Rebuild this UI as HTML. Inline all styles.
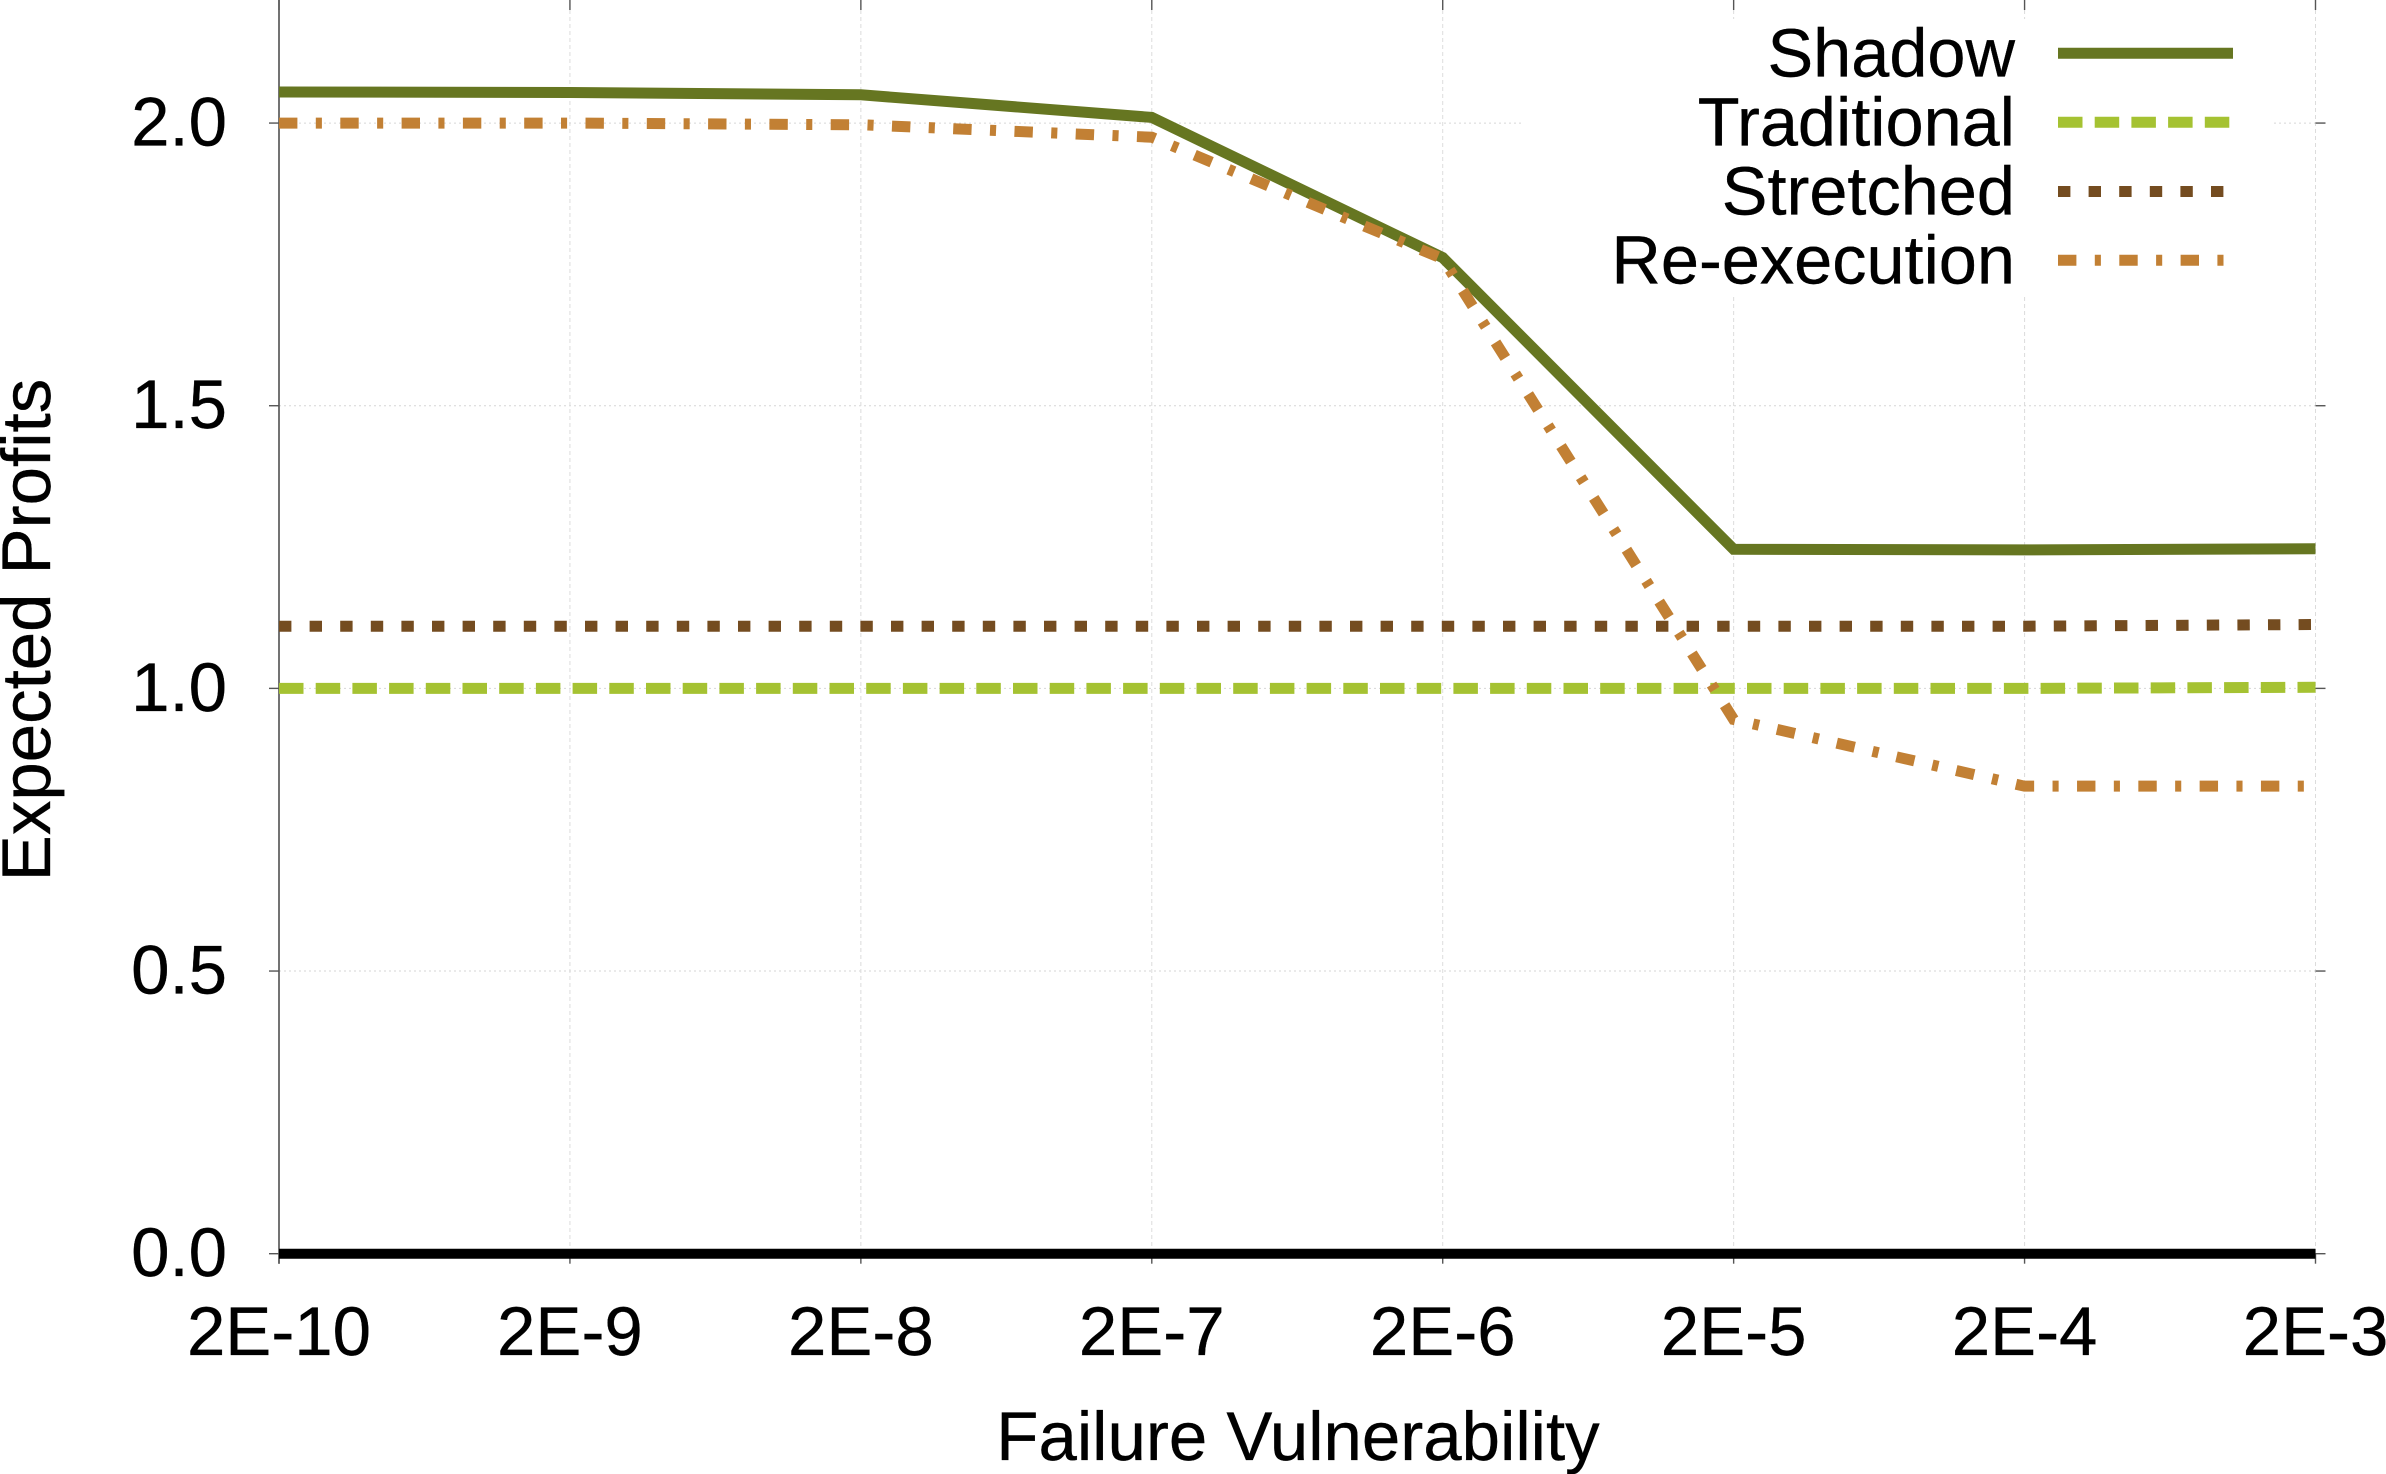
<!DOCTYPE html>
<html lang="en">
<head>
<meta charset="utf-8">
<title>Expected Profits vs Failure Vulnerability</title>
<style>
html,body{margin:0;padding:0;background:#fff;width:2386px;height:1474px;overflow:hidden}
svg{display:block}
text{font-family:"Liberation Sans",sans-serif;fill:#000;stroke:#000;stroke-width:0.35px;text-rendering:geometricPrecision}
</style>
</head>
<body>
<svg id="chart" xmlns="http://www.w3.org/2000/svg" width="2386" height="1474" viewBox="0 0 2386 1474"></svg>
<script>
const xValues = [2e-10, 2e-9, 2e-8, 2e-7, 2e-6, 2e-5, 2e-4, 2e-3];
const xTickLabels = ["2E-10", "2E-9", "2E-8", "2E-7", "2E-6", "2E-5", "2E-4", "2E-3"];
const yTicks = [0, 0.5, 1, 1.5, 2];
const yTickLabels = ["0.0", "0.5", "1.0", "1.5", "2.0"];
const shadowValues = [2.055, 2.054, 2.05, 2.01, 1.762, 1.246, 1.245, 1.247];
const traditionalValues = [1, 1, 1, 1, 1, 1, 1, 1.002];
const stretchedValues = [1.11, 1.11, 1.11, 1.11, 1.11, 1.11, 1.11, 1.113];
const reExecutionValues = [2, 2, 1.997, 1.975, 1.76, 0.945, 0.827, 0.827];
const baselineValues = [0, 0, 0, 0, 0, 0, 0, 0];

const svgNS = "http://www.w3.org/2000/svg";
const svg = document.getElementById("chart");
const plot = { left: 279, right: 2315.5, top: 10, bottom: 1253.7 };
const xMin = Math.log10(xValues[0]);
const xMax = Math.log10(xValues[xValues.length - 1]);
const yMax = 2.2;

function xScale(v) {
  return plot.left + (Math.log10(v) - xMin) / (xMax - xMin) * (plot.right - plot.left);
}
function yScale(v) {
  return plot.bottom - v / yMax * (plot.bottom - plot.top);
}
function make(tag, attrs) {
  const el = document.createElementNS(svgNS, tag);
  for (const k in attrs) el.setAttribute(k, attrs[k]);
  svg.appendChild(el);
  return el;
}
function makeText(str, attrs) {
  const el = make("text", attrs);
  el.textContent = str;
  return el;
}

/* grid */
yTicks.forEach(function (t) {
  if (t === 0) return;
  const g = make("line", { x1: plot.left, x2: plot.right, y1: yScale(t), y2: yScale(t), stroke: "#d6d6d6", "stroke-width": 1, "stroke-dasharray": "2 3" });
  
  
});
xValues.forEach(function (v, i) {
  if (i === 0) return;
  const g = make("line", { x1: xScale(v), x2: xScale(v), y1: plot.top, y2: plot.bottom, stroke: "#dcdcdc", "stroke-width": 1, "stroke-dasharray": "4 3" });
  
  
});

/* legend mask */
const legendMask = make("rect", { x: 1521, y: 19, width: 753, height: 278, fill: "#fff" });



/* left axis line */
const axisLeft = make("line", { x1: plot.left, x2: plot.left, y1: 0, y2: plot.bottom + 10, stroke: "#505050", "stroke-width": 1.6 });



/* ticks */
yTicks.forEach(function (t, i) {
  const y = yScale(t);
  const a = make("line", { x1: plot.left - 10, x2: plot.left, y1: y, y2: y, stroke: "#555", "stroke-width": 1.4 });
  
  
  const b = make("line", { x1: plot.right, x2: plot.right + 10, y1: y, y2: y, stroke: "#555", "stroke-width": 1.4 });
  
  
  const l = makeText(yTickLabels[i], { x: 227, y: y + 22.5, "text-anchor": "end", "font-size": 69 });
  
  
});
xValues.forEach(function (v, i) {
  const x = xScale(v);
  const a = make("line", { x1: x, x2: x, y1: plot.bottom, y2: plot.bottom + 10, stroke: "#555", "stroke-width": 1.4 });
  
  
  const b = make("line", { x1: x, x2: x, y1: 0, y2: plot.top, stroke: "#555", "stroke-width": 1.4 });
  
  
  const l = makeText(xTickLabels[i], { x: x, y: 1355, "text-anchor": "middle", "font-size": 69 });
  
  
});

/* series */
function seriesPoints(values) {
  return values.map(function (v, i) {
    return xScale(xValues[i]) + "," + yScale(v);
  }).join(" ");
}
const shadowLine = make("polyline", { points: seriesPoints(shadowValues), fill: "none", stroke: "#667621", "stroke-width": 11, "stroke-linejoin": "miter" });


const traditionalLine = make("polyline", { points: seriesPoints(traditionalValues), fill: "none", stroke: "#a5c232", "stroke-width": 11, "stroke-dasharray": "24.5 12.2" });


const stretchedLine = make("polyline", { points: seriesPoints(stretchedValues), fill: "none", stroke: "#744c20", "stroke-width": 11, "stroke-dasharray": "12.4 18.2" });


const reExecutionLine = make("polyline", { points: seriesPoints(reExecutionValues), fill: "none", stroke: "#c28034", "stroke-width": 11, "stroke-dasharray": "18.4 18.4 6.1 18.4" });


const baselineLine = make("polyline", { points: seriesPoints(baselineValues), fill: "none", stroke: "#000", "stroke-width": 10 });



/* legend */
const legendY = [53.3, 122.3, 191.5, 260.3];
const legendText = ["Shadow", "Traditional", "Stretched", "Re-execution"];
const legendColor = ["#667621", "#a5c232", "#744c20", "#c28034"];
const legendDash = ["none", "24.5 12.2", "12.4 18.2", "18.4 18.4 6.1 18.4"];
legendText.forEach(function (name, i) {
  const t = makeText(name, { x: 2015, y: legendY[i] + 23, "text-anchor": "end", "font-size": 68.5 });
  
  
  const k = make("line", { x1: 2058, x2: 2233, y1: legendY[i], y2: legendY[i], stroke: legendColor[i], "stroke-width": 11, "stroke-dasharray": legendDash[i] });
  
  
});

/* axis titles */
const xTitle = makeText("Failure Vulnerability", { x: 1298, y: 1460, "text-anchor": "middle", "font-size": 69 });


const yTitle = makeText("Expected Profits", { x: 0, y: 0, "text-anchor": "middle", "font-size": 69, transform: "translate(50 630) rotate(-90)" });


</script>
</body>
</html>
